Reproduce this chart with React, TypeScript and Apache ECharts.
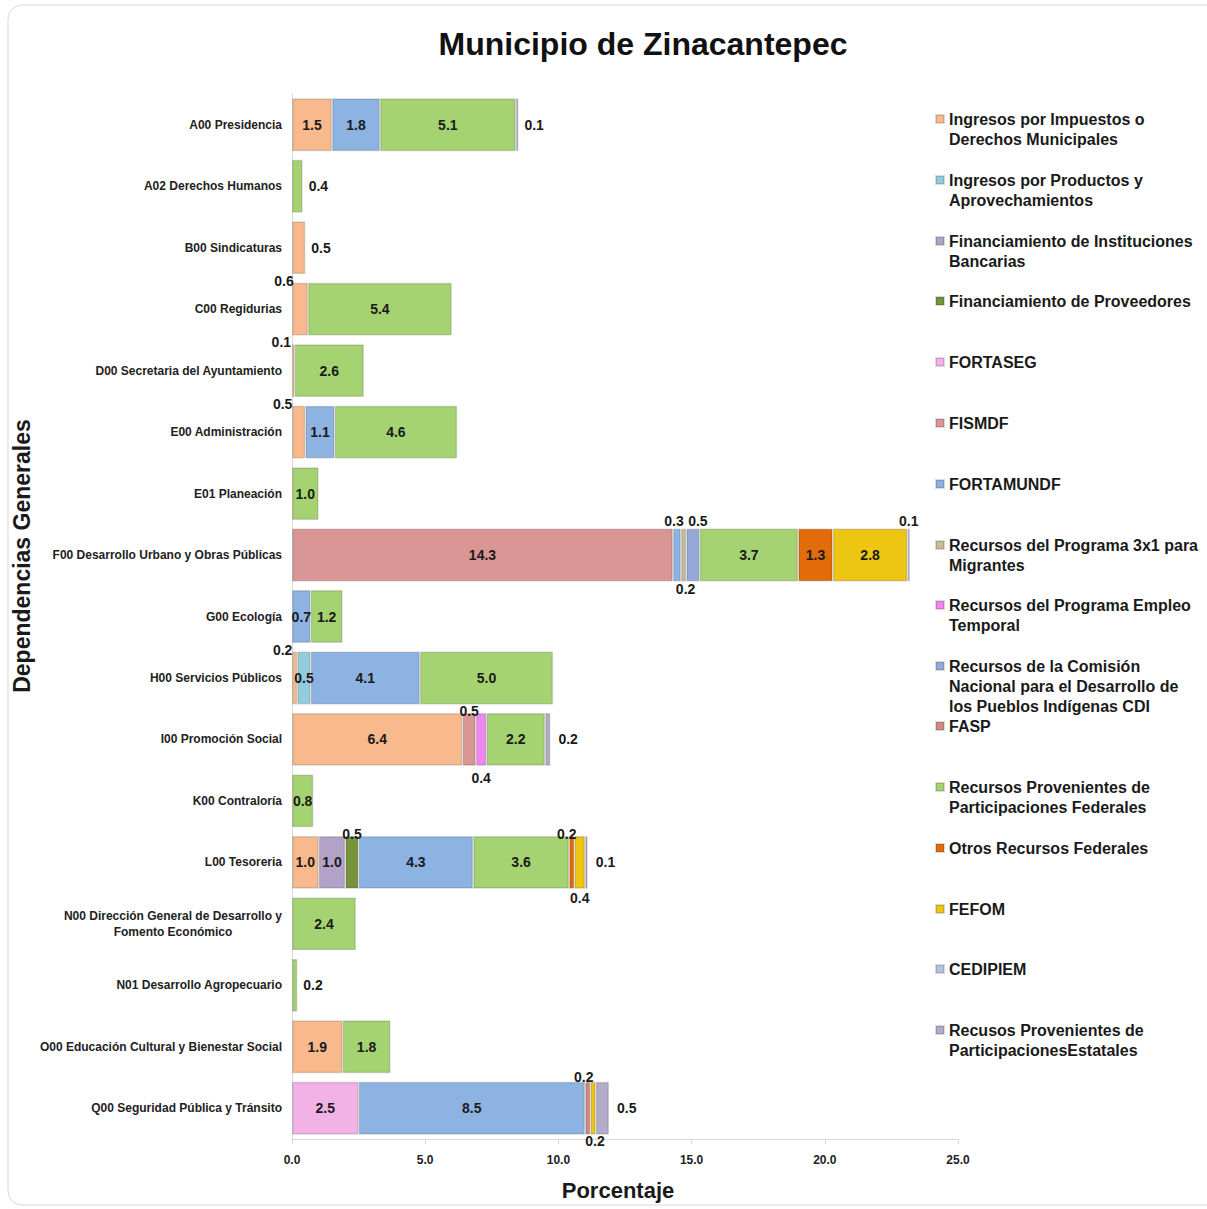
import React, { useEffect, useRef } from 'react';
import * as echarts from 'echarts';

const FONT = '"Liberation Sans", Arial, sans-serif';

const categories = [
  'A00 Presidencia',
  'A02 Derechos Humanos',
  'B00 Sindicaturas',
  'C00 Regidurias',
  'D00 Secretaria del Ayuntamiento',
  'E00 Administración',
  'E01 Planeación',
  'F00 Desarrollo Urbano y Obras Públicas',
  'G00 Ecología',
  'H00 Servicios Públicos',
  'I00 Promoción Social',
  'K00 Contraloría',
  'L00 Tesoreria',
  'N00 Dirección General de Desarrollo y\nFomento Económico',
  'N01 Desarrollo Agropecuario',
  'O00 Educación Cultural y Bienestar Social',
  'Q00 Seguridad Pública y Tránsito',
];

const seriesNames = [
  'Ingresos por Impuestos o Derechos Municipales',
  'Ingresos por Productos y Aprovechamientos',
  'Financiamiento de Instituciones Bancarias',
  'Financiamiento de Proveedores',
  'FORTASEG',
  'FISMDF',
  'FORTAMUNDF',
  'Recursos del Programa 3x1 para Migrantes',
  'Recursos del Programa Empleo Temporal',
  'Recursos de la Comisión Nacional para el Desarrollo de los Pueblos Indígenas CDI',
  'FASP',
  'Recursos Provenientes de Participaciones Federales',
  'Otros Recursos Federales',
  'FEFOM',
  'CEDIPIEM',
  'Recusos Provenientes de ParticipacionesEstatales',
];

const legendLabels = [
  'Ingresos por Impuestos o\nDerechos Municipales',
  'Ingresos por Productos y\nAprovechamientos',
  'Financiamiento de Instituciones\nBancarias',
  'Financiamiento de Proveedores',
  'FORTASEG',
  'FISMDF',
  'FORTAMUNDF',
  'Recursos del Programa 3x1 para\nMigrantes',
  'Recursos del Programa Empleo\nTemporal',
  'Recursos de la Comisión\nNacional para el Desarrollo de\nlos Pueblos Indígenas CDI',
  'FASP',
  'Recursos Provenientes de\nParticipaciones Federales',
  'Otros Recursos Federales',
  'FEFOM',
  'CEDIPIEM',
  'Recusos Provenientes de\nParticipacionesEstatales',
];

const seriesKeys = [
  'impuestos', 'productos', 'bancarias', 'proveedores', 'fortaseg', 'fismdf',
  'fortamundf', 'tresxuno', 'empleo', 'cdi', 'fasp', 'partFed', 'otros',
  'fefom', 'cedipiem', 'estatales',
];

const colors = [
  '#F8BA8C', '#93CDDD', '#B3A2C7', '#77933C', '#F2B2E6', '#D99694',
  '#8DB3E2', '#C4BD97', '#EE88EE', '#95A8D8', '#CF8987', '#A5D371',
  '#E36C0A', '#EDC513', '#B7C3DE', '#B3ACC8',
];

// values per category (A00 ... Q00)
const impuestos =   [1.5, null, 0.5, 0.6, 0.1, 0.5, null, null, null, 0.2, 6.4, null, 1.0, null, null, 1.9, null];
const productos =   [null, null, null, null, null, null, null, null, null, 0.5, null, null, null, null, null, null, null];
const bancarias =   [null, null, null, null, null, null, null, null, null, null, null, null, 1.0, null, null, null, null];
const proveedores = [null, null, null, null, null, null, null, null, null, null, null, null, 0.5, null, null, null, null];
const fortaseg =    [null, null, null, null, null, null, null, null, null, null, null, null, null, null, null, null, 2.5];
const fismdf =      [null, null, null, null, null, null, null, 14.3, null, null, 0.5, null, null, null, null, null, null];
const fortamundf =  [1.8, null, null, null, null, 1.1, null, 0.3, 0.7, 4.1, null, null, 4.3, null, null, null, 8.5];
const tresxuno =    [null, null, null, null, null, null, null, 0.2, null, null, null, null, null, null, null, null, null];
const empleo =      [null, null, null, null, null, null, null, null, null, null, 0.4, null, null, null, null, null, null];
const cdi =         [null, null, null, null, null, null, null, 0.5, null, null, null, null, null, null, null, null, null];
const fasp =        [null, null, null, null, null, null, null, null, null, null, null, null, null, null, null, null, 0.2];
const partFed =     [5.1, 0.4, null, 5.4, 2.6, 4.6, 1.0, 3.7, 1.2, 5.0, 2.2, 0.8, 3.6, 2.4, 0.2, 1.8, null];
const otros =       [null, null, null, null, null, null, null, 1.3, null, null, null, null, 0.2, null, null, null, null];
const fefom =       [null, null, null, null, null, null, null, 2.8, null, null, null, null, 0.4, null, null, null, 0.2];
const cedipiem =    [null, null, null, null, null, null, null, 0.1, null, null, null, null, null, null, null, null, null];
const estatales =   [0.1, null, null, null, null, null, null, null, null, null, 0.2, null, 0.1, null, null, null, 0.5];

const seriesValues = [
  impuestos, productos, bancarias, proveedores, fortaseg, fismdf, fortamundf,
  tresxuno, empleo, cdi, fasp, partFed, otros, fefom, cedipiem, estatales,
];

// label placement (layout only)
type Place = { position: string; offset?: [number, number]; distance?: number };
const labelPlacement: Record<string, Place> = {
  'estatales:0': { position: 'right', distance: 6 },
  'partFed:1': { position: 'right', distance: 6 },
  'impuestos:2': { position: 'right', distance: 6 },
  'impuestos:3': { position: 'top', offset: [-16, 10] },
  'impuestos:4': { position: 'top', offset: [-12, 10] },
  'impuestos:5': { position: 'top', offset: [-16, 10] },
  'fortamundf:7': { position: 'top', distance: 1, offset: [-3, 0] },
  'tresxuno:7': { position: 'bottom', distance: 1, offset: [2, 0] },
  'cdi:7': { position: 'top', distance: 1, offset: [5, 0] },
  'cedipiem:7': { position: 'top', distance: 1 },
  'impuestos:9': { position: 'top', offset: [-12, 10] },
  'fismdf:10': { position: 'top', distance: 1, offset: [0, 6] },
  'empleo:10': { position: 'bottom', distance: 5 },
  'estatales:10': { position: 'right', distance: 8 },
  'proveedores:12': { position: 'top', distance: 1, offset: [0, 6] },
  'otros:12': { position: 'top', distance: 1, offset: [-5, 6] },
  'fefom:12': { position: 'bottom', distance: 2 },
  'estatales:12': { position: 'right', distance: 8 },
  'partFed:14': { position: 'right', distance: 6 },
  'fasp:16': { position: 'top', distance: 1, offset: [-4, 3] },
  'fefom:16': { position: 'bottom', distance: 1, offset: [2, -2] },
  'estatales:16': { position: 'right', distance: 8 },
};

const legendIconY = [119, 180, 241, 301, 362, 423, 484, 545, 605, 666, 726, 787, 848, 909, 969, 1030];

export default function App() {
  const ref = useRef<HTMLDivElement>(null);

  useEffect(() => {
    if (!ref.current) return;
    const chart = echarts.init(ref.current, undefined, { renderer: 'svg' });

    const series = seriesNames.map((name, si) => {
      const key = seriesKeys[si];
      const data = seriesValues[si].map((v, ci) => {
        if (v == null) return '-';
        const p = labelPlacement[`${key}:${ci}`];
        if (!p) return v;
        const label: any = { position: p.position };
        if (p.offset) label.offset = p.offset;
        if (p.distance != null) label.distance = p.distance;
        return { value: v, label };
      });
      return {
        name,
        type: 'bar',
        stack: 'total',
        barCategoryGap: '14%',
        data,
        itemStyle: {
          color: colors[si],
          borderColor: 'rgba(0,0,0,0.14)',
          borderWidth: 1.5,
        },
        label: {
          show: true,
          position: 'inside',
          formatter: (p: any) => Number(p.value).toFixed(1),
          fontFamily: FONT,
          fontSize: 14,
          fontWeight: 'bold',
          color: '#1a1a1a',
        },
      };
    });

    const legends = seriesNames.map((name, i) => {
      const lines = legendLabels[i].split('\n').length;
      // leading empty lines keep the first text line level with the icon
      const text = '\n'.repeat(lines - 1) + legendLabels[i];
      return {
        data: [name],
        orient: 'vertical',
        left: 935,
        top: legendIconY[i] - (2 * lines - 1) * 10,
        padding: 0,
        itemWidth: 8,
        itemHeight: 8,
        icon: 'rect',
        selectedMode: false,
        formatter: () => text,
        textStyle: {
          fontFamily: FONT,
          fontSize: 16,
          fontWeight: 'bold',
          color: '#1a1a1a',
          lineHeight: 20,
        },
      };
    });

    chart.setOption({
      animation: false,
      backgroundColor: '#ffffff',
      title: {
        text: 'Municipio de Zinacantepec',
        left: 638,
        top: 23,
        textAlign: 'center',
        textStyle: {
          fontFamily: FONT,
          fontSize: 32,
          fontWeight: 'bold',
          color: '#111111',
        },
      },
      legend: legends,
      grid: { left: 292, right: 249, top: 94, bottom: 70, containLabel: false },
      xAxis: {
        type: 'value',
        min: 0,
        max: 25,
        interval: 5,
        name: 'Porcentaje',
        nameLocation: 'middle',
        nameGap: 40,
        nameTextStyle: {
          fontFamily: FONT, fontSize: 22, fontWeight: 'bold', color: '#1a1a1a',
          padding: [0, 14, 0, 0],
        },
        axisLine: { show: true, lineStyle: { color: '#d9d9d9' } },
        axisTick: { show: true, length: 5, lineStyle: { color: '#d9d9d9' } },
        splitLine: { show: false },
        axisLabel: {
          formatter: (v: number) => v.toFixed(1),
          fontFamily: FONT,
          fontSize: 12,
          fontWeight: 'bold',
          color: '#222222',
          margin: 15,
        },
      },
      yAxis: {
        type: 'category',
        inverse: true,
        data: categories,
        axisLine: { show: true, lineStyle: { color: '#d9d9d9' } },
        axisTick: { show: false },
        axisLabel: {
          margin: 10,
          fontFamily: FONT,
          fontSize: 12,
          fontWeight: 'bold',
          color: '#222222',
          lineHeight: 16,
          formatter: (v: string) => {
            if (v.indexOf('\n') >= 0) {
              const [a, b] = v.split('\n');
              return `{a|${a}}\n{b|${b}}`;
            }
            return v;
          },
          rich: {
            a: { fontFamily: FONT, fontSize: 12, fontWeight: 'bold', color: '#222222', lineHeight: 16, align: 'right' },
            b: { fontFamily: FONT, fontSize: 12, fontWeight: 'bold', color: '#222222', lineHeight: 16, align: 'center' },
          },
        },
      },
      graphic: [
        {
          type: 'rect',
          z: -10,
          shape: { x: 8, y: 5, width: 1220, height: 1200, r: 14 },
          style: { fill: 'none', stroke: '#d9d9d9', lineWidth: 1 },
          silent: true,
        },
        {
          type: 'text',
          x: 22,
          y: 556,
          rotation: Math.PI / 2,
          style: {
            text: 'Dependencias Generales',
            textAlign: 'center',
            textVerticalAlign: 'middle',
            font: `bold 23px ${FONT}`,
            fill: '#1a1a1a',
          },
          silent: true,
        },
      ],
      series,
    });

    return () => chart.dispose();
  }, []);

  return (
    <div
      ref={ref}
      style={{ position: 'fixed', left: 0, top: 0, width: 1207, height: 1209 }}
    />
  );
}
